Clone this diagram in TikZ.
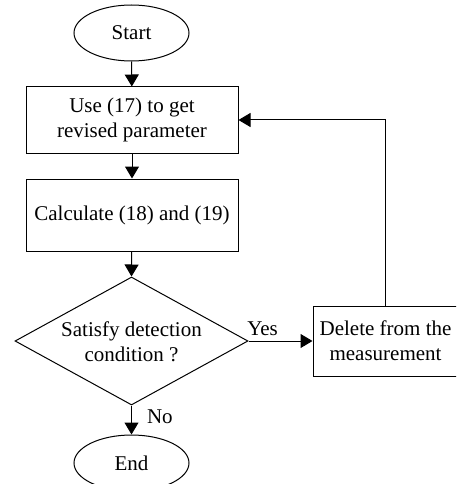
\documentclass[tikz,border=0pt]{standalone}
\usepackage{fontspec}
\setmainfont{Liberation Serif}
\usetikzlibrary{shapes.geometric,arrows.meta}
\begin{document}
\begin{tikzpicture}[x=1pt,y=1pt,
  every node/.style={font=\fontsize{21}{25}\selectfont},
  base/.style={draw,line width=1pt,inner sep=0pt,align=center},
  term/.style={base,ellipse,minimum width=115pt,minimum height=56pt},
  proc/.style={base,rectangle},
  decision/.style={base,diamond,minimum width=233pt,minimum height=128pt},
  arr/.style={line width=1pt,-{Triangle[length=12pt,width=14pt]}},
  lbl/.style={inner sep=0pt}]
\useasboundingbox (0,0) rectangle (456,-484);
\clip (0,0) rectangle (456,-484);
\node[term] (start) at (131.5,-33) {Start};
\node[proc,minimum width=212pt,minimum height=66pt] (use) at (132,-120) {Use (17) to get\\revised parameter};
\node[proc,minimum width=212pt,minimum height=72pt] (calc) at (132,-215) {Calculate (18) and (19)};
\node[decision] (dec) at (131.5,-341) {};
\node[lbl,align=center] (dectext) at (131.5,-342) {Satisfy detection\\condition ?};
\node[proc,minimum width=145pt,minimum height=70pt] (del) at (385.5,-341) {Delete from the\\measurement};
\node[term] (end) at (131.5,-463) {End};
\coordinate (corner) at (del.north |- use.east);
\draw[arr] (start) -- (use);
\draw[arr] (use) -- (calc);
\draw[arr] (calc) -- (dec.north);
\draw[arr] (dec.east) -- node[lbl,above=5pt,pos=0.22] (yes) {Yes} (del.west);
\draw[arr] (dec.south) -- node[lbl,right=15pt,pos=0.4] (no) {No} (end.north);
\draw[arr] (del.north) -- (corner) -- (use.east);
\end{tikzpicture}
\end{document}
